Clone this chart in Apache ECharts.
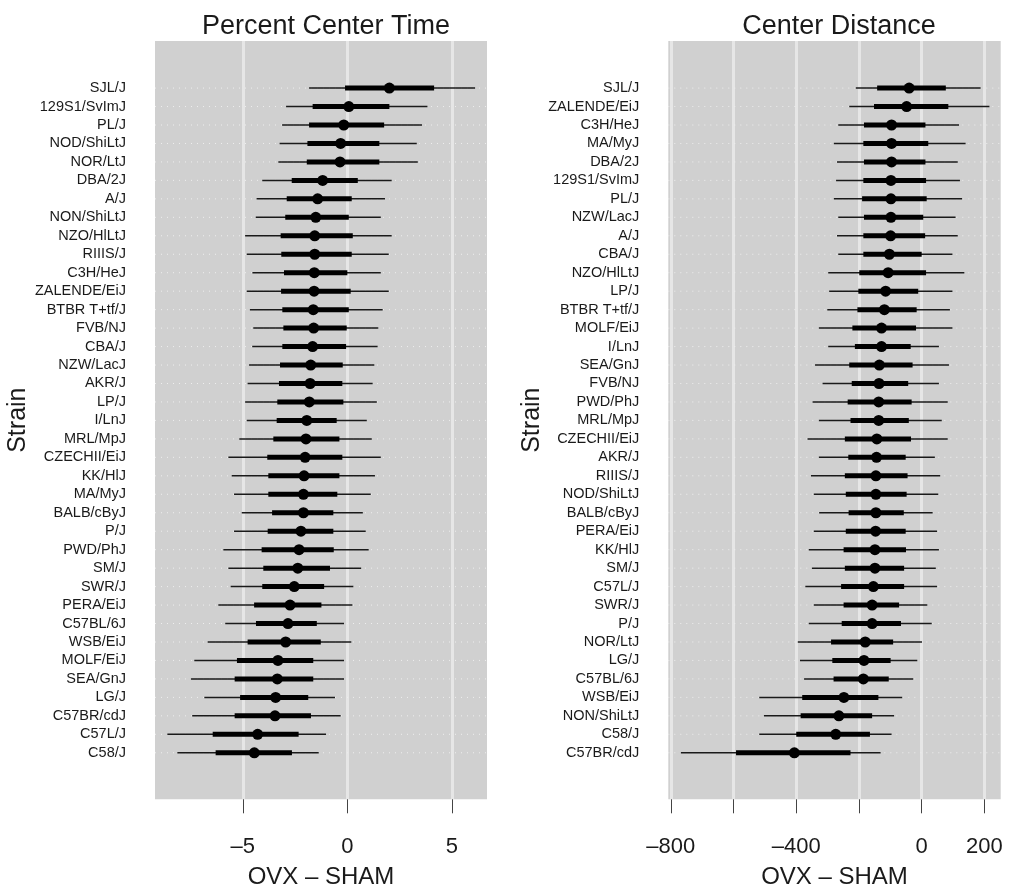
<!DOCTYPE html>
<html>
<head>
<meta charset="utf-8">
<script src="https://cdn.jsdelivr.net/npm/echarts@6/dist/echarts.min.js"></script>
<style>
    html, body { margin: 0; padding: 0; background: #fff; }
    #chart { width: 1010px; height: 888px; }
</style>
</head>
<body>
<div id="chart"></div>
<script>
    // 左图: Percent Center Time (自上而下)
    const timeStrains = ['SJL/J', '129S1/SvImJ', 'PL/J', 'NOD/ShiLtJ', 'NOR/LtJ', 'DBA/2J', 'A/J', 'NON/ShiLtJ',
        'NZO/HlLtJ', 'RIIIS/J', 'C3H/HeJ', 'ZALENDE/EiJ', 'BTBR T+tf/J', 'FVB/NJ', 'CBA/J', 'NZW/LacJ', 'AKR/J',
        'LP/J', 'I/LnJ', 'MRL/MpJ', 'CZECHII/EiJ', 'KK/HlJ', 'MA/MyJ', 'BALB/cByJ', 'P/J', 'PWD/PhJ', 'SM/J',
        'SWR/J', 'PERA/EiJ', 'C57BL/6J', 'WSB/EiJ', 'MOLF/EiJ', 'SEA/GnJ', 'LG/J', 'C57BR/cdJ', 'C57L/J', 'C58/J']
    const timeLo95 = [-1.83, -2.93, -3.12, -3.24, -3.30, -4.07, -4.34, -4.38, -4.89, -4.81, -4.54, -4.81, -4.66,
        -4.50, -4.55, -4.70, -4.77, -4.89, -4.81, -5.17, -5.69, -5.53, -5.42, -5.05, -5.42, -5.93, -5.69, -5.58,
        -6.17, -5.84, -6.68, -7.32, -7.48, -6.84, -7.42, -8.61, -8.13]
    const timeLo50 = [-0.11, -1.66, -1.83, -1.91, -1.94, -2.66, -2.90, -2.97, -3.19, -3.16, -3.03, -3.17, -3.11,
        -3.06, -3.11, -3.22, -3.27, -3.35, -3.38, -3.54, -3.83, -3.78, -3.78, -3.60, -3.81, -4.10, -4.02, -4.07,
        -4.46, -4.37, -4.77, -5.28, -5.39, -5.13, -5.39, -6.44, -6.30]
    const timeEst = [2.01, 0.07, -0.17, -0.32, -0.35, -1.18, -1.42, -1.51, -1.56, -1.56, -1.58, -1.59, -1.63,
        -1.61, -1.66, -1.75, -1.78, -1.82, -1.94, -1.98, -2.02, -2.07, -2.10, -2.10, -2.22, -2.31, -2.37, -2.54,
        -2.74, -2.84, -2.95, -3.32, -3.35, -3.43, -3.46, -4.29, -4.45]
    const timeHi50 = [4.15, 2.01, 1.76, 1.53, 1.53, 0.50, 0.21, 0.07, 0.26, 0.21, 0.00, 0.16, 0.07,
        -0.03, -0.06, -0.22, -0.24, -0.19, -0.51, -0.38, -0.24, -0.38, -0.48, -0.67, -0.67, -0.65, -0.83, -1.11,
        -1.24, -1.46, -1.27, -1.63, -1.63, -1.87, -1.74, -2.33, -2.65]
    const timeHi95 = [6.11, 3.83, 3.57, 3.32, 3.37, 2.12, 1.80, 1.60, 2.12, 1.98, 1.60, 1.98, 1.69,
        1.48, 1.45, 1.29, 1.21, 1.41, 0.93, 1.17, 1.60, 1.32, 1.12, 0.74, 0.88, 1.02, 0.66, 0.29,
        0.24, -0.16, 0.19, -0.16, -0.16, -0.59, -0.32, -1.02, -1.37]
    const timeTicks = [-5, 0, 5]

    // 右图: Center Distance (自上而下)
    const distStrains = ['SJL/J', 'ZALENDE/EiJ', 'C3H/HeJ', 'MA/MyJ', 'DBA/2J', '129S1/SvImJ', 'PL/J', 'NZW/LacJ',
        'A/J', 'CBA/J', 'NZO/HlLtJ', 'LP/J', 'BTBR T+tf/J', 'MOLF/EiJ', 'I/LnJ', 'SEA/GnJ', 'FVB/NJ', 'PWD/PhJ',
        'MRL/MpJ', 'CZECHII/EiJ', 'AKR/J', 'RIIIS/J', 'NOD/ShiLtJ', 'BALB/cByJ', 'PERA/EiJ', 'KK/HlJ', 'SM/J',
        'C57L/J', 'SWR/J', 'P/J', 'NOR/LtJ', 'LG/J', 'C57BL/6J', 'WSB/EiJ', 'NON/ShiLtJ', 'C58/J', 'C57BR/cdJ']
    const distLo95 = [-210, -231, -266, -280, -270, -273, -280, -266, -270, -266, -298, -295, -301, -328, -298,
        -340, -316, -348, -328, -364, -328, -353, -344, -327, -344, -360, -350, -371, -344, -360, -395, -388,
        -375, -518, -503, -518, -768]
    const distLo50 = [-142, -152, -184, -186, -184, -186, -190, -184, -186, -186, -199, -202, -205, -221, -213,
        -231, -223, -236, -227, -245, -234, -245, -242, -233, -242, -249, -245, -257, -249, -255, -289, -285,
        -281, -381, -386, -400, -592]
    const distEst = [-40, -48, -96, -96, -96, -98, -98, -98, -99, -103, -107, -115, -119, -128, -128,
        -135, -136, -137, -137, -143, -144, -146, -146, -146, -147, -149, -149, -154, -158, -158, -180, -184,
        -186, -248, -264, -274, -406]
    const distHi50 = [77, 85, 12, 21, 12, 14, 16, 5, 11, 0, 14, -11, -16, -18, -35,
        -29, -43, -32, -41, -34, -51, -45, -48, -57, -51, -50, -56, -56, -72, -66, -91, -99,
        -105, -138, -158, -165, -227]
    const distHi95 = [188, 216, 119, 140, 115, 122, 129, 108, 115, 98, 136, 98, 90, 98, 55,
        87, 55, 83, 64, 83, 42, 59, 53, 35, 49, 55, 45, 49, 18, 32, 1, -14,
        -27, -62, -88, -96, -131]
    const distTicks = [-800, -600, -400, -200, 0, 200]
    const distTickLabels = [-800, -400, 0, 200]

    const FONT = 'Liberation Sans, Arial, Helvetica, sans-serif'

    // 每行: [行号, lo95, lo50, est, hi50, hi95]
    function rows(lo95, lo50, est, hi50, hi95) {
        return est.map((v, i) => [i + 1, lo95[i], lo50[i], v, hi50[i], hi95[i]])
    }

    // 画一行: 点线背景 + 细线(95%) + 粗线(50%) + 圆点
    function renderForest(params, api) {
        let y = api.value(0)
        let a = api.coord([api.value(1), y]),
            b = api.coord([api.value(2), y]),
            p = api.coord([api.value(3), y]),
            c = api.coord([api.value(4), y]),
            d = api.coord([api.value(5), y])
        let cs = params.coordSys
        return {
            type: 'group',
            children: [
                {type: 'line', shape: {x1: cs.x, y1: p[1], x2: cs.x + cs.width, y2: p[1]},
                    style: {stroke: '#eeeeee', lineWidth: 1, lineDash: [1, 5]}},
                {type: 'line', shape: {x1: a[0], y1: a[1], x2: d[0], y2: d[1]},
                    style: {stroke: '#1a1a1a', lineWidth: 1.5}},
                {type: 'line', shape: {x1: b[0], y1: b[1], x2: c[0], y2: c[1]},
                    style: {stroke: '#000', lineWidth: 5}},
                {type: 'circle', shape: {cx: p[0], cy: p[1], r: 5.5}, style: {fill: '#000'}}
            ]
        }
    }

    function minusFmt(v) {
        return String(v).replace('-', '\u2013')
    }

    function xAxisOf(idx, min, max, ticks, labels) {
        return {
            type: 'value', gridIndex: idx, min: min, max: max, position: 'bottom',
            name: 'OVX \u2013 SHAM', nameLocation: 'middle', nameGap: 66,
            nameTextStyle: {fontSize: 24, color: '#1a1a1a', fontFamily: FONT},
            axisLine: {show: false, onZero: false},
            axisTick: {show: true, length: 14, customValues: ticks, lineStyle: {color: '#444', width: 1}},
            axisLabel: {customValues: labels, margin: 37, fontSize: 22, color: '#1a1a1a', fontFamily: FONT,
                formatter: minusFmt},
            splitLine: {show: true, lineStyle: {color: '#e6e6e6', width: 3}}
        }
    }

    function yAxisOf(idx, strains) {
        let pos = strains.map((s, i) => i + 1)
        return {
            type: 'value', gridIndex: idx, inverse: true, min: -1.55, max: 39.52, position: 'left',
            name: 'Strain', nameLocation: 'middle', nameGap: 102,
            nameTextStyle: {fontSize: 25, color: '#1a1a1a', fontFamily: FONT},
            axisLine: {show: false, onZero: false},
            axisTick: {show: false},
            axisLabel: {customValues: pos, margin: 29, fontSize: 14.5, color: '#1a1a1a', fontFamily: FONT,
                formatter: v => strains[v - 1] || ''},
            splitLine: {show: false}
        }
    }

    let chart = echarts.init(document.getElementById('chart'))
    chart.setOption({
        animation: false,
        backgroundColor: '#fff',
        title: [
            {text: 'Percent Center Time', left: 321, top: 8, textAlign: 'center',
                textStyle: {fontSize: 27, fontWeight: 'normal', color: '#1a1a1a', fontFamily: FONT}},
            {text: 'Center Distance', left: 834, top: 8, textAlign: 'center',
                textStyle: {fontSize: 27, fontWeight: 'normal', color: '#1a1a1a', fontFamily: FONT}}
        ],
        grid: [
            {left: 155, right: 523, top: 41, bottom: 88.7, outerBoundsMode: 'none',
                show: true, backgroundColor: '#d0d0d0', borderWidth: 0},
            {left: 668.3, right: 9.3, top: 41, bottom: 88.7, outerBoundsMode: 'none',
                show: true, backgroundColor: '#d0d0d0', borderWidth: 0}
        ],
        xAxis: [
            xAxisOf(0, -9.2, 6.68, timeTicks, timeTicks),
            xAxisOf(1, -808, 252, distTicks, distTickLabels)
        ],
        yAxis: [
            yAxisOf(0, timeStrains),
            yAxisOf(1, distStrains)
        ],
        series: [
            {type: 'custom', xAxisIndex: 0, yAxisIndex: 0, renderItem: renderForest,
                encode: {x: [1, 2, 3, 4, 5], y: 0},
                data: rows(timeLo95, timeLo50, timeEst, timeHi50, timeHi95)},
            {type: 'custom', xAxisIndex: 1, yAxisIndex: 1, renderItem: renderForest,
                encode: {x: [1, 2, 3, 4, 5], y: 0},
                data: rows(distLo95, distLo50, distEst, distHi50, distHi95)}
        ]
    })
</script>
</body>
</html>
